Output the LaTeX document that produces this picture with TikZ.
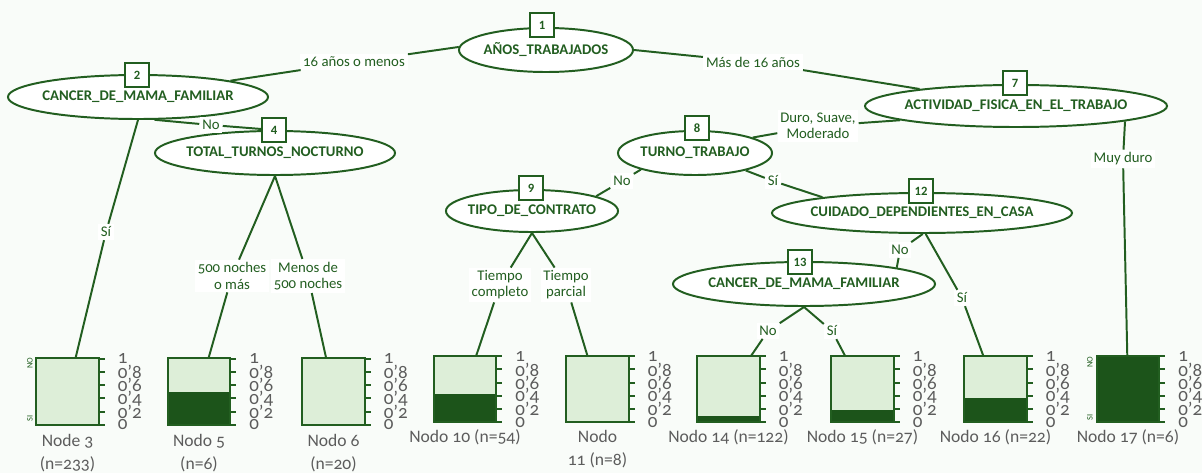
\documentclass[tikz,border=0pt]{standalone}
\usepackage{fontspec}
\setmainfont{Carlito}[Numbers=OldStyle]
\usetikzlibrary{shapes.geometric,positioning}

\definecolor{verde}{RGB}{34,94,32}
\definecolor{oscuro}{RGB}{28,84,26}
\definecolor{claro}{RGB}{221,238,216}
\definecolor{gris}{RGB}{92,92,92}
\definecolor{fondo}{RGB}{249,252,249}

\begin{document}
\begin{tikzpicture}[x=0.025cm, y=-0.025cm,
    split/.style={ellipse, draw=verde, line width=1.4pt, fill=white, inner sep=0pt, text=verde, font=\fontsize{10.5}{13}\selectfont\bfseries},
    numbox/.style={rectangle, draw=verde, line width=1.4pt, fill=white, minimum size=0.6cm, inner sep=0pt, text=verde, font=\fontsize{9}{10}\selectfont\bfseries\addfontfeature{Numbers=Lining}},
    rama/.style={fill=white, text=verde, align=center, inner sep=2pt, font=\fontsize{10.5}{11.5}\selectfont},
    hoja/.style={rectangle, fill=claro, minimum width=1.55cm, minimum height=1.65cm, inner sep=0pt},
    pie/.style={text=gris, align=center, inner sep=1pt, font=\fontsize{12.5}{16.5}\selectfont},
    escala/.style={anchor=west, xshift=0.3cm, inner sep=0pt, text=gris, font=\fontsize{13.5}{13.5}\selectfont},
    marca/.style={rotate=90, inner sep=0pt, text=verde, font=\fontsize{6}{6}\selectfont},
    linea/.style={draw=verde, line width=1.4pt}
    ]

    \fill[fondo] (0,0) rectangle (1202,473);
    \useasboundingbox (0,0) rectangle (1202,473);

    % terminal nodes
    \foreach \n/\x/\y/\f in {3/67.5/391.5/0, 5/199/391.5/0.5, 6/333.5/391.5/0, 10/465/389/0.43, 11/597.5/389/0, 14/728.5/389/0.09, 15/862.5/389/0.19, 16/995.5/389/0.37, 17/1128/389/1}{
        \node[hoja] (t\n) at (\x,\y) {};
        \fill[oscuro] (t\n.south west) rectangle ([yshift=\f*1.65cm]t\n.south east);
        \draw[linea] (t\n.south west) rectangle (t\n.north east);
        \foreach \v/\s in {0/0, 0.2/0'2, 0.4/0'4, 0.6/0'6, 0.8/0'8, 1/1}
            \draw[linea] ([yshift=\v*1.65cm]t\n.south east) -- ++(6,0) node[escala] {\s};
    }

    \node[pie] (p3) [below=2mm of t3] {Node 3\\(n=233)};
    \node[pie] (p5) [below=2mm of t5] {Nodo 5\\(n=6)};
    \node[pie] (p6) [below=2mm of t6] {Nodo 6\\(n=20)};
    \node[pie] (p10) [below=1.5mm of t10] {Nodo 10 (n=54)};
    \node[pie] (p11) [below=1.5mm of t11] {Nodo\\11 (n=8)};
    \node[pie] (p14) [below=1.5mm of t14] {Nodo 14 (n=122)};
    \node[pie] (p15) [below=1.5mm of t15] {Nodo 15 (n=27)};
    \node[pie] (p16) [below=1.5mm of t16] {Nodo 16 (n=22)};
    \node[pie] (p17) [below=1.5mm of t17] {Nodo 17 (n=6)};

    \node[marca] (no3) at (30,363) {NO};
    \node[marca] (si3) at (30,418) {SI};
    \node[marca] (no17) at (1090,362) {NO};
    \node[marca] (si17) at (1090,417) {SI};

    % split nodes
    \node[split, minimum width=4.35cm, minimum height=1.1cm] (n1) at (546,50) {\makebox[0pt]{AÑOS\_TRABAJADOS}};
    \node[split, minimum width=6.5cm, minimum height=1.1cm] (n2) at (138,97) {\makebox[0pt]{CANCER\_DE\_MAMA\_FAMILIAR}};
    \node[split, minimum width=6.0cm, minimum height=1.1cm] (n4) at (275,153) {\makebox[0pt]{TOTAL\_TURNOS\_NOCTURNO}};
    \node[split, minimum width=7.55cm, minimum height=1.05cm] (n7) at (1016,106) {\makebox[0pt]{ACTIVIDAD\_FISICA\_EN\_EL\_TRABAJO}};
    \node[split, minimum width=3.85cm, minimum height=1.1cm] (n8) at (695,153) {\makebox[0pt]{TURNO\_TRABAJO}};
    \node[split, minimum width=4.3cm, minimum height=1.05cm] (n9) at (532,211) {\makebox[0pt]{TIPO\_DE\_CONTRATO}};
    \node[split, minimum width=7.5cm, minimum height=1.0cm] (n12) at (922,213) {\makebox[0pt]{CUIDADO\_DEPENDIENTES\_EN\_CASA}};
    \node[split, minimum width=6.55cm, minimum height=1.1cm] (n13) at (804,284) {\makebox[0pt]{CANCER\_DE\_MAMA\_FAMILIAR}};

    \node[numbox] (b1) at (542,25) {1};
    \node[numbox] (b2) at (137,75) {2};
    \node[numbox] (b4) at (274,130) {4};
    \node[numbox] (b7) at (1015,83) {7};
    \node[numbox] (b8) at (697,128) {8};
    \node[numbox] (b9) at (531,188) {9};
    \node[numbox] (b12) at (921,191) {12};
    \node[numbox] (b13) at (800,262) {13};

    % branch labels
    \node[rama] (l12) at (354,62) {16 años o menos};
    \node[rama] (l17) at (753,62) {Más de 16 años};
    \node[rama] (l23) at (106,232) {Sí};
    \node[rama] (l24) at (211,125) {No};
    \node[rama] (l45) at (232,276) {500 noches\\o más};
    \node[rama] (l46) at (308,276) {Menos de\\500 noches};
    \node[rama] (l78) at (818,126) {Duro, Suave,\\Moderado};
    \node[rama] (l717) at (1123,159) {Muy duro};
    \node[rama] (l89) at (622,181) {No};
    \node[rama] (l812) at (773,181) {Sí};
    \node[rama] (l910) at (500,285) {Tiempo\\completo};
    \node[rama] (l911) at (566,285) {Tiempo\\parcial};
    \node[rama] (l1213) at (900,250) {No};
    \node[rama] (l1216) at (962,298) {Sí};
    \node[rama] (l1314) at (768,331) {No};
    \node[rama] (l1315) at (832,331) {Sí};

    \draw[linea] (n1.178) -- (l12) -- (n2.10);
    \draw[linea] (n1.east) -- (l17) -- (n7.170);
    \draw[linea] (n2.south) -- (l23) -- (t3);
    \draw[linea] (n2.-54) -- (l24) -- (b4);
    \draw[linea] (n4.south) -- (l45) -- (t5);
    \draw[linea] (n4.south) -- (l46) -- (t6);
    \draw[linea] (n7.187) -- (l78) -- (n8.15);
    \draw[linea] (n7.-8) -- (l717) -- (t17);
    \draw[linea] (n8.197) -- (l89) -- (n9.13);
    \draw[linea] (n8.-19) -- (l812) -- (n12.171);
    \draw[linea] (n9.south) -- (l910) -- (t10);
    \draw[linea] (n9.south) -- (l911) -- (t11);
    \draw[linea] (n12.-88) -- (l1213) -- (n13.10);
    \draw[linea] (n12.-80) -- (l1216) -- (t16);
    \draw[linea] (n13.south) -- (l1314) -- (t14);
    \draw[linea] (n13.south) -- (l1315) -- (t15);
\end{tikzpicture}
\end{document}
